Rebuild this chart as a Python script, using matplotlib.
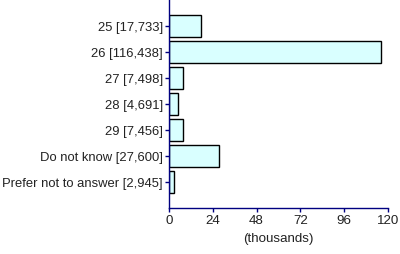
import matplotlib
matplotlib.use('Agg')
import matplotlib.pyplot as plt

plt.rcParams['font.family'] = ['Liberation Sans', 'DejaVu Sans']

categories = ['25', '26', '27', '28', '29', 'Do not know', 'Prefer not to answer']
counts = [17733, 116438, 7498, 4691, 7456, 27600, 2945]
xticks = [0, 24, 48, 72, 96, 120]

labels = ['%s [%s]' % (c, format(n, ',')) for c, n in zip(categories, counts)]
values = [n / 1000 for n in counts]

fig = plt.figure(figsize=(4, 2.54), dpi=100)
ax = fig.add_axes([0.4225, 0.181, 0.5475, 0.819])

pos = list(range(len(values)))
ax.barh(pos, values, height=0.85, color='#d9ffff', edgecolor='black', linewidth=1)

ax.set_ylim(7, -1)
ax.set_xlim(0, 120)
ax.set_yticks(pos)
ax.set_yticklabels(labels, fontsize=9.4, color='#222222')
ax.set_xticks(xticks)
ax.set_xticklabels([str(t) for t in xticks], fontsize=9.6, color='#222222')
ax.set_xlabel('(thousands)', fontsize=9.6, color='#222222', labelpad=4)

for s in ['top', 'right']:
    ax.spines[s].set_visible(False)
for s in ['left', 'bottom']:
    ax.spines[s].set_color('#000080')
    ax.spines[s].set_linewidth(1)
ax.tick_params(axis='both', colors='#000080', length=3, width=1, pad=2)
ax.tick_params(axis='y', pad=1.5)
ax.tick_params(axis='both', labelcolor='#222222')

fig.savefig('out.png', dpi=100)
